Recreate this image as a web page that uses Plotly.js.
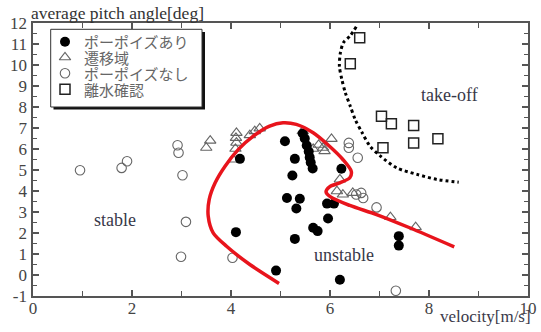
<!DOCTYPE html>
<html>
<head>
<meta charset="utf-8">
<script src="https://cdn.plot.ly/plotly-3.0.1.min.js"></script>
<style>html,body{margin:0;padding:0;background:#fff;}#chart{width:541px;height:332px;}</style>
</head>
<body>
<div id="chart"></div>
<script>
// ---- data ----
const seriesNames = ["ポーポイズあり", "遷移域", "ポーポイズなし", "離水確認"];

const porpoiseX = [4.18, 4.10, 4.91, 5.09, 5.45, 5.49, 5.53, 5.57, 5.59, 5.61, 5.65, 5.29, 5.24, 5.13, 5.39, 5.32, 5.94, 6.08, 5.96, 5.66, 5.75, 5.29, 6.23, 6.20, 7.39, 7.39];
const porpoiseY = [5.53, 2.04, 0.21, 6.37, 6.74, 6.50, 6.17, 5.88, 5.60, 5.36, 5.07, 5.53, 4.74, 3.67, 3.63, 3.17, 3.40, 3.40, 2.69, 2.25, 2.09, 1.72, 5.06, -0.23, 1.85, 1.40];

const transitionX = [3.50, 3.58, 4.11, 4.10, 4.11, 4.09, 4.04, 4.38, 4.48, 4.58, 5.45, 5.66, 5.77, 5.86, 5.89, 6.03, 6.20, 6.14, 6.26, 6.46, 7.22, 7.73];
const transitionY = [6.06, 6.40, 6.77, 6.53, 6.30, 6.01, 5.50, 6.66, 6.85, 6.98, 6.85, 6.01, 6.20, 6.06, 5.90, 6.48, 4.55, 3.99, 3.83, 3.91, 2.76, 2.28];

const noPorpoiseX = [0.95, 1.79, 1.90, 2.92, 2.94, 3.02, 3.09, 2.99, 4.03, 6.38, 6.38, 6.56, 6.53, 6.63, 6.67, 6.94, 7.33];
const noPorpoiseY = [4.99, 5.10, 5.42, 6.18, 5.82, 4.75, 2.53, 0.87, 0.82, 6.29, 6.06, 5.58, 3.83, 3.91, 3.67, 3.22, -0.75];

const takeoffX = [6.60, 6.41, 7.04, 7.24, 7.69, 7.69, 8.18, 7.07];
const takeoffY = [11.30, 10.06, 7.56, 7.20, 7.12, 6.29, 6.49, 6.06];

const stabilityX = [4.97, 4.38, 3.91, 3.64, 3.54, 3.56, 3.68, 3.88, 4.15, 4.45, 4.78, 5.05, 5.32, 5.66, 5.99, 6.26, 6.43, 6.40, 6.20, 5.99, 5.92, 6.01, 6.40, 6.94, 7.61, 8.51];
const stabilityY = [-0.40, 0.50, 1.37, 2.01, 2.80, 3.60, 4.39, 5.18, 5.98, 6.61, 7.09, 7.25, 7.17, 6.77, 6.13, 5.50, 4.94, 4.63, 4.39, 4.20, 3.96, 3.72, 3.31, 2.88, 2.25, 1.34];

const takeoffLineX = [6.53, 6.41, 6.27, 6.21, 6.19, 6.24, 6.31, 6.41, 6.51, 6.65, 6.81, 7.02, 7.35, 7.76, 8.16, 8.60];
const takeoffLineY = [11.82, 11.40, 11.06, 10.58, 9.94, 9.31, 8.68, 8.04, 7.40, 6.77, 6.13, 5.66, 5.10, 4.79, 4.55, 4.42];

const xTickVals = [0, 2, 4, 6, 8, 10];
const xTickText = ["0", "2", "4", "6", "8", "10"];
const yTickVals = [-1, 0, 1, 2, 3, 4, 5, 6, 7, 8, 9, 10, 11, 12];
const yTickText = ["-1", "0", "1", "2", "3", "4", "5", "6", "7", "8", "9", "10", "11", "12"];

const xTitle = "velocity[m/s]";
const yTitle = "average pitch angle[deg]";
const regionLabels = ["stable", "unstable", "take-off"];

// ---- styles ----
const serif = "Liberation Serif";
const markers = [
  {symbol: "circle", size: 10, color: "#000", line: {width: 0}},
  {symbol: "triangle-up-open", size: 10, color: "#666", line: {width: 1.1, color: "#666"}},
  {symbol: "circle-open", size: 9.5, color: "#666", line: {width: 1.1, color: "#666"}},
  {symbol: "square-open", size: 10, color: "#222", line: {width: 1.5, color: "#222"}}
];
const seriesX = [porpoiseX, transitionX, noPorpoiseX, takeoffX];
const seriesY = [porpoiseY, transitionY, noPorpoiseY, takeoffY];

const traces = [];
for (let i = 3; i >= 0; i--) {
  traces.push({x: seriesX[i], y: seriesY[i], type: "scatter", mode: "markers",
    name: seriesNames[i], marker: markers[i], showlegend: false, cliponaxis: false});
}
traces.push({x: stabilityX, y: stabilityY, type: "scatter", mode: "lines",
  line: {color: "#e8141c", width: 3.5, shape: "spline", smoothing: 0.8}, showlegend: false});
traces.push({x: takeoffLineX, y: takeoffLineY, type: "scatter", mode: "lines",
  line: {color: "#000", width: 3, dash: "3px,3px", shape: "spline", smoothing: 0.8}, showlegend: false});

// legend drawn on a pixel-unit overlay axis
const legendRowsY = [41.7, 57.3, 73.3, 89.3];
const legendSymX = 65, legendTextX = 82;
for (let i = 0; i < 4; i++) {
  traces.push({x: [legendSymX], y: [legendRowsY[i]], xaxis: "x2", yaxis: "y2", type: "scatter",
    mode: "markers", marker: markers[i], showlegend: false, hoverinfo: "skip", cliponaxis: false});
}

const annotations = [];
for (let i = 0; i < 4; i++) {
  annotations.push({xref: "x2", yref: "y2", x: legendTextX, y: legendRowsY[i], xanchor: "left", yanchor: "middle",
    text: seriesNames[i], showarrow: false, font: {family: "Noto Sans CJK JP", size: 15, color: "#666"}});
}
annotations.push({xref: "paper", yref: "paper", x: -0.008, y: 1.0348, xanchor: "left", yanchor: "middle", text: yTitle,
  showarrow: false, font: {family: serif, size: 17.5, color: "#333"}});
annotations.push({xref: "paper", yref: "paper", x: 1.0101, y: -0.0769, xanchor: "right", yanchor: "middle", text: xTitle,
  showarrow: false, font: {family: serif, size: 17, color: "#3a3a4a"}});
const regionPos = [[1.66, 2.64], [6.29, 0.93], [8.41, 8.55]];
for (let i = 0; i < 3; i++) {
  annotations.push({x: regionPos[i][0], y: regionPos[i][1], xanchor: "center", yanchor: "middle",
    text: regionLabels[i], showarrow: false, font: {family: serif, size: 18, color: "#383848"}});
}

const shapes = [
  {type: "rect", xref: "x2", yref: "y2", x0: 53.5, x1: 205, y0: 32, y1: 109.5, fillcolor: "#111", line: {width: 0}, layer: "below"},
  {type: "rect", xref: "x2", yref: "y2", x0: 50.7, x1: 202, y0: 29.3, y1: 107, fillcolor: "#fff", line: {width: 1, color: "#333"}, layer: "below"}
];

function axisBase() {
  return {
    showline: true, linecolor: "#555", linewidth: 1.6, mirror: "ticks",
    ticks: "inside", tickcolor: "#555", tickwidth: 1.3, ticklen: 6,
    showgrid: false, zeroline: false,
    tickfont: {family: serif, size: 17, color: "#444"},
    tickmode: "array"
  };
}

const layout = {
  width: 541, height: 332,
  margin: {l: 33, r: 13, t: 23, b: 36, pad: 0},
  paper_bgcolor: "#fff", plot_bgcolor: "#fff",
  font: {family: serif, size: 17, color: "#444"},
  showlegend: false,
  xaxis: Object.assign(axisBase(), {range: [0, 10], tickvals: xTickVals, ticktext: xTickText, ticklabelstandoff: -4,
    minor: {tickvals: [1, 3, 5, 7, 9], ticks: "inside", ticklen: 5, tickcolor: "#555", tickwidth: 1.3}}),
  yaxis: Object.assign(axisBase(), {range: [-1, 12], tickvals: yTickVals, ticktext: yTickText, ticklabelstandoff: 1,
    minor: {dtick: 0.5, ticks: "inside", ticklen: 4, tickcolor: "#555", tickwidth: 1.3}}),
  xaxis2: {overlaying: "x", range: [33, 528], visible: false, anchor: "y2", fixedrange: true},
  yaxis2: {overlaying: "y", range: [296, 23], visible: false, anchor: "x2", fixedrange: true},
  annotations: annotations,
  shapes: shapes
};

Plotly.newPlot("chart", traces, layout, {displayModeBar: false, staticPlot: true});
</script>
</body>
</html>
